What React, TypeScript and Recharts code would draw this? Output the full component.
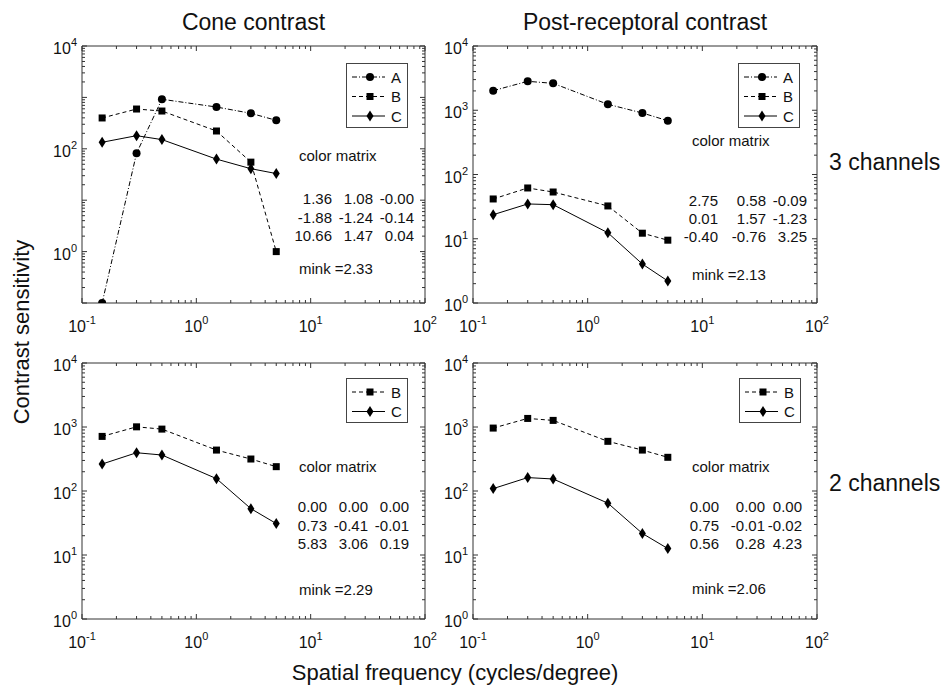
import React from 'react';
import { LineChart, Line, XAxis, YAxis } from 'recharts';

// spatial frequencies (cycles/degree)
const freqs = [0.15, 0.3, 0.5, 1.5, 3, 5];

// cone contrast, 3 channels
const coneA = [0.1, 82, 920, 650, 490, 358];
const coneB = [398, 594, 543, 222, 55, 1.0];
const coneC = [134, 180, 151, 63, 41, 33];

// post-receptoral contrast, 3 channels
const postA = [2018, 2820, 2624, 1238, 906, 687];
const postB = [41.6, 61.7, 53.4, 32.4, 12.2, 9.5];
const postC = [23.7, 34.8, 33.9, 12.4, 4.04, 2.2];

// cone contrast, 2 channels
const cone2B = [713, 1006, 927, 436, 316, 240];
const cone2C = [264, 396, 365, 156, 53, 31];

// post-receptoral contrast, 2 channels
const post2B = [962, 1361, 1268, 597, 436, 336];
const post2C = [109, 162, 154, 64.6, 21.7, 12.6];

const coneMatrix3 = [['1.36', '1.08', '-0.00'], ['-1.88', '-1.24', '-0.14'], ['10.66', '1.47', '0.04']];
const postMatrix3 = [['2.75', '0.58', '-0.09'], ['0.01', '1.57', '-1.23'], ['-0.40', '-0.76', '3.25']];
const coneMatrix2 = [['0.00', '0.00', '0.00'], ['0.73', '-0.41', '-0.01'], ['5.83', '3.06', '0.19']];
const postMatrix2 = [['0.00', '0.00', '0.00'], ['0.75', '-0.01', '-0.02'], ['0.56', '0.28', '4.23']];

const minks = ['2.33', '2.13', '2.29', '2.06'];

const FONT = '"Liberation Sans", Arial, Helvetica, sans-serif';
const AXIS = '#333';
const INK = '#111';

const decadeTicks = (lo: number, hi: number) => {
  const out: number[] = [];
  for (let e = lo; e < hi; e++) {
    for (let m = 1; m < 10; m++) out.push(Number((m * Math.pow(10, e)).toPrecision(3)));
  }
  out.push(Math.pow(10, hi));
  return out;
};

const isMajor = (v: number) => {
  const l = Math.log10(v);
  return Math.abs(l - Math.round(l)) < 1e-6;
};

const xTicks = decadeTicks(-1, 2);

const STYLES: Record<string, { dash?: string; shape: string }> = {
  A: { dash: '5 2 1 2', shape: 'circle' },
  B: { dash: '4 3', shape: 'square' },
  C: { dash: undefined, shape: 'diamond' },
};

function Marker({ cx, cy, shape }: any) {
  if (cx == null || cy == null) return null;
  if (shape === 'circle') return <circle cx={cx} cy={cy} r={4} fill="#000" />;
  if (shape === 'square') return <rect x={cx - 3.5} y={cy - 3.5} width={7} height={7} fill="#000" />;
  return <polygon points={`${cx},${cy - 5.5} ${cx + 3.5},${cy} ${cx},${cy + 5.5} ${cx - 3.5},${cy}`} fill="#000" />;
}

function BottomTick({ x, y, payload }: any) {
  const v = payload.value;
  const major = isMajor(v);
  return (
    <g>
      <line x1={x} x2={x} y1={y} y2={y - (major ? 5 : 3)} stroke={AXIS} />
      {major && (
        <text x={x} y={y + 29} textAnchor="middle" fontSize={16} fontFamily={FONT} fill={INK}>
          10<tspan dy={-8} fontSize={11}>{Math.round(Math.log10(v))}</tspan>
        </text>
      )}
    </g>
  );
}

function TopTick({ x, y, payload }: any) {
  const major = isMajor(payload.value);
  return <line x1={x} x2={x} y1={y} y2={y + (major ? 5 : 3)} stroke={AXIS} />;
}

function LeftTick({ x, y, payload, labels }: any) {
  const v = payload.value;
  const major = isMajor(v);
  const show = labels.some((l: number) => Math.abs(l - v) < 1e-9);
  return (
    <g>
      <line x1={x} x2={x + (major ? 5 : 3)} y1={y} y2={y} stroke={AXIS} />
      {show && (
        <text x={x - 5} y={y + 8} textAnchor="end" fontSize={16} fontFamily={FONT} fill={INK}>
          10<tspan dy={-8} fontSize={11}>{Math.round(Math.log10(v))}</tspan>
        </text>
      )}
    </g>
  );
}

function RightTick({ x, y, payload }: any) {
  const major = isMajor(payload.value);
  return <line x1={x} x2={x - (major ? 5 : 3)} y1={y} y2={y} stroke={AXIS} />;
}

function Panel({ left, top, w, h, data, keys, yDomain, yLabels }: any) {
  const yTicks = decadeTicks(Math.round(Math.log10(yDomain[0])), Math.round(Math.log10(yDomain[1])));
  return (
    <div style={{ position: 'absolute', left: left - 60, top: top - 20 }}>
      <LineChart width={w + 90} height={h + 60} data={data} margin={{ top: 19, right: 29, bottom: 39, left: 59 }}>
        <XAxis xAxisId="b" dataKey="f" type="number" scale="log" domain={[0.1, 100]} ticks={xTicks} interval={0}
          tickSize={0} tickMargin={0} height={1} axisLine={{ stroke: AXIS }} tickLine={false} tick={BottomTick} allowDataOverflow />
        <XAxis xAxisId="t" orientation="top" dataKey="f" type="number" scale="log" domain={[0.1, 100]} ticks={xTicks} interval={0}
          tickSize={0} tickMargin={0} height={1} axisLine={{ stroke: AXIS }} tickLine={false} tick={TopTick} allowDataOverflow />
        <YAxis yAxisId="l" type="number" scale="log" domain={yDomain} ticks={yTicks} interval={0}
          tickSize={0} tickMargin={0} width={1} axisLine={{ stroke: AXIS }} tickLine={false}
          tick={(p: any) => <LeftTick {...p} labels={yLabels} />} allowDataOverflow />
        <YAxis yAxisId="r" orientation="right" type="number" scale="log" domain={yDomain} ticks={yTicks} interval={0}
          tickSize={0} tickMargin={0} width={1} axisLine={{ stroke: AXIS }} tickLine={false} tick={RightTick} allowDataOverflow />
        {keys.map((k: string) => (
          <Line key={k} xAxisId="b" yAxisId="l" type="linear" dataKey={k} stroke="#000" strokeWidth={1}
            strokeDasharray={STYLES[k].dash} isAnimationActive={false}
            dot={(p: any) => <Marker key={`${k}-${p.index}`} cx={p.cx} cy={p.cy} shape={STYLES[k].shape} />} />
        ))}
      </LineChart>
    </div>
  );
}

function LegendBox({ x, y, keys }: any) {
  const w = 62;
  const h = keys.length * 20 + 5;
  return (
    <svg style={{ position: 'absolute', left: x, top: y }} width={w} height={h}>
      <rect x={0.5} y={0.5} width={w - 1} height={h - 1} fill="#fff" stroke="#444" />
      {keys.map((k: string, i: number) => {
        const cy = 14 + i * 19.5;
        return (
          <g key={k}>
            <line x1={6} x2={39} y1={cy} y2={cy} stroke="#000" strokeDasharray={STYLES[k].dash} />
            <Marker cx={24} cy={cy} shape={STYLES[k].shape} />
            <text x={45} y={cy + 5.5} fontSize={15} fontFamily={FONT} fill={INK}>{k}</text>
          </g>
        );
      })}
    </svg>
  );
}

const line = (x: number, y: number, s: string) => (
  <div style={{ position: 'absolute', left: x, top: y - 9, lineHeight: '18px', whiteSpace: 'nowrap' }}>{s}</div>
);

function Annotation({ x, cmY, rowYs, cols, matrix, minkY, mink }: any) {
  return (
    <>
      {line(x, cmY, 'color matrix')}
      {matrix.map((row: string[], r: number) =>
        row.map((v, c) => (
          <div key={`${r}-${c}`} style={{ position: 'absolute', left: cols[c] - 60, width: 60, top: rowYs[r] - 9, lineHeight: '18px', textAlign: 'right' }}>{v}</div>
        ))
      )}
      {line(x, minkY, `mink =${mink}`)}
    </>
  );
}

const mk = (a: number[] | null, b: number[], c: number[]) =>
  freqs.map((f, i) => (a ? { f, A: a[i], B: b[i], C: c[i] } : { f, B: b[i], C: c[i] }));

export default function App() {
  return (
    <div style={{ position: 'absolute', left: 0, top: 0, width: 947, height: 687, background: '#fff', fontFamily: FONT, color: INK, fontSize: 15, overflow: 'hidden' }}>
      <Panel left={82} top={46} w={343} h={257} data={mk(coneA, coneB, coneC)} keys={['A', 'B', 'C']} yDomain={[0.1, 10000]} yLabels={[1, 100, 10000]} />
      <Panel left={473} top={46} w={344} h={257} data={mk(postA, postB, postC)} keys={['A', 'B', 'C']} yDomain={[1, 10000]} yLabels={[1, 10, 100, 1000, 10000]} />
      <Panel left={82} top={363} w={343} h={256} data={mk(null, cone2B, cone2C)} keys={['B', 'C']} yDomain={[1, 10000]} yLabels={[1, 10, 100, 1000, 10000]} />
      <Panel left={473} top={363} w={344} h={256} data={mk(null, post2B, post2C)} keys={['B', 'C']} yDomain={[1, 10000]} yLabels={[1, 10, 100, 1000, 10000]} />

      <div style={{ position: 'absolute', left: 82, width: 343, top: 8, textAlign: 'center', fontSize: 23, lineHeight: '28px' }}>Cone contrast</div>
      <div style={{ position: 'absolute', left: 473, width: 344, top: 8, textAlign: 'center', fontSize: 23, lineHeight: '28px' }}>Post-receptoral contrast</div>

      <LegendBox x={346} y={63} keys={['A', 'B', 'C']} />
      <LegendBox x={738} y={63} keys={['A', 'B', 'C']} />
      <LegendBox x={346} y={378} keys={['B', 'C']} />
      <LegendBox x={739} y={378} keys={['B', 'C']} />

      <Annotation x={299} cmY={156} rowYs={[199, 217.5, 236]} cols={[332, 373, 414]} matrix={coneMatrix3} minkY={269} mink={minks[0]} />
      <Annotation x={692} cmY={141} rowYs={[201, 219, 237]} cols={[718, 766, 807]} matrix={postMatrix3} minkY={275} mink={minks[1]} />
      <Annotation x={299} cmY={467} rowYs={[507, 526, 544]} cols={[327, 368, 409]} matrix={coneMatrix2} minkY={590} mink={minks[2]} />
      <Annotation x={692} cmY={467} rowYs={[507, 526, 544]} cols={[719, 765, 802]} matrix={postMatrix2} minkY={589} mink={minks[3]} />

      <div style={{ position: 'absolute', left: 829, top: 148, fontSize: 23, lineHeight: '28px', whiteSpace: 'nowrap' }}>3 channels</div>
      <div style={{ position: 'absolute', left: 829, top: 469, fontSize: 23, lineHeight: '28px', whiteSpace: 'nowrap' }}>2 channels</div>

      <div style={{ position: 'absolute', left: 22, top: 332, width: 0, height: 0 }}>
        <div style={{ position: 'absolute', left: -150, top: -14, width: 300, textAlign: 'center', fontSize: 22, lineHeight: '28px', transform: 'rotate(-90deg)' }}>Contrast sensitivity</div>
      </div>
      <div style={{ position: 'absolute', left: 155, width: 600, top: 659, textAlign: 'center', fontSize: 22, lineHeight: '28px' }}>Spatial frequency (cycles/degree)</div>
    </div>
  );
}
